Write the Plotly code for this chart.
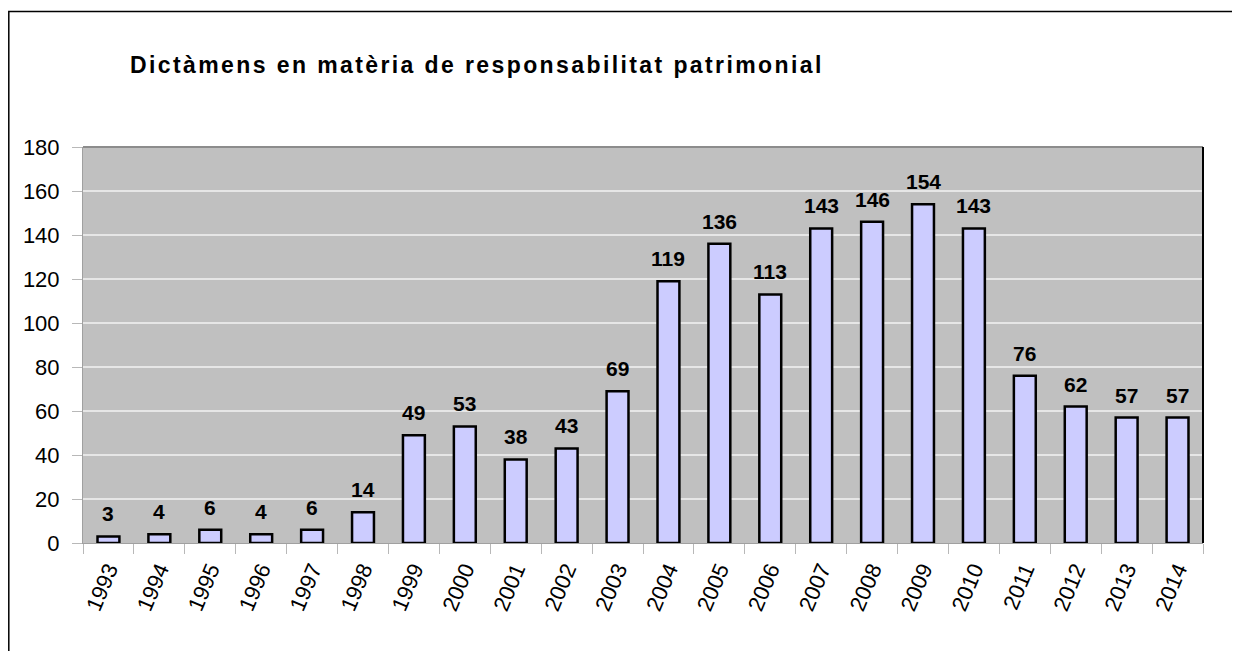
import plotly.graph_objects as go

years = [str(y) for y in range(1993, 2015)]
dictamens = [3, 4, 6, 4, 6, 14, 49, 53, 38, 43, 69, 119, 136, 113, 143, 146, 154, 143, 76, 62, 57, 57]
title = "Dictàmens en matèria de responsabilitat patrimonial"

# page body has an 8px margin, so the figure is 8px smaller than the window
W, H = 1232, 643
fig = go.Figure()
fig.add_trace(go.Bar(
    x=years, y=dictamens, width=0.43,
    marker=dict(color="#ccccff", line=dict(color="black", width=2.5)),
))
# value labels (category index used as x so years aren't read as indices)
for i, v in enumerate(dictamens):
    fig.add_annotation(x=i, y=v, text="<b>%d</b>" % v, showarrow=False,
                       yanchor="bottom", yshift=9,
                       font=dict(family="Liberation Sans", size=21, color="black"))

fig.update_layout(
    width=W, height=H,
    margin=dict(l=75, r=37, t=139, b=108),
    paper_bgcolor="white", plot_bgcolor="#c0c0c0",
    font=dict(family="Liberation Sans", size=22, color="black"),
    showlegend=False,
    title=dict(text='<span style="letter-spacing:2.4px"><b>' + title + "</b></span>",
               x=122 / W, xanchor="left", y=1 - 57 / H, yanchor="middle",
               font=dict(family="Liberation Sans", size=23, color="black")),
)
fig.update_xaxes(
    type="category", range=[-0.5, len(years) - 0.5], tickangle=-67,
    showline=True, linecolor="#a0a0a0", linewidth=1,
    ticks="outside", tickson="boundaries", ticklen=10, tickcolor="#b8b8b8",
    showgrid=False, tickfont=dict(size=22), ticklabelstandoff=4,
)
fig.update_yaxes(
    range=[0, 180], dtick=20, showline=True, linecolor="#a0a0a0", linewidth=1,
    ticks="outside", ticklen=10, tickcolor="#b8b8b8",
    gridcolor="#e6e6e6", gridwidth=2, zeroline=False, tickfont=dict(size=22),
    ticklabelstandoff=8,
)

# plot area border: darker top, black right edge
fig.add_shape(type="line", xref="paper", yref="paper", x0=0, x1=1, y0=1, y1=1,
              line=dict(color="#8c8c8c", width=2))
fig.add_shape(type="line", xref="paper", yref="paper", x0=1, x1=1, y0=0, y1=1,
              line=dict(color="black", width=2))
# outer chart frame
fig.add_shape(type="rect", xref="paper", yref="paper",
              x0=(0.8 - 75) / 1120, x1=(1240 - 75) / 1120,
              y0=(535 - 660) / 396, y1=(535 - 3.5) / 396,
              line=dict(color="black", width=1.5), fillcolor="rgba(0,0,0,0)", layer="below")

fig.write_html("out.html")
